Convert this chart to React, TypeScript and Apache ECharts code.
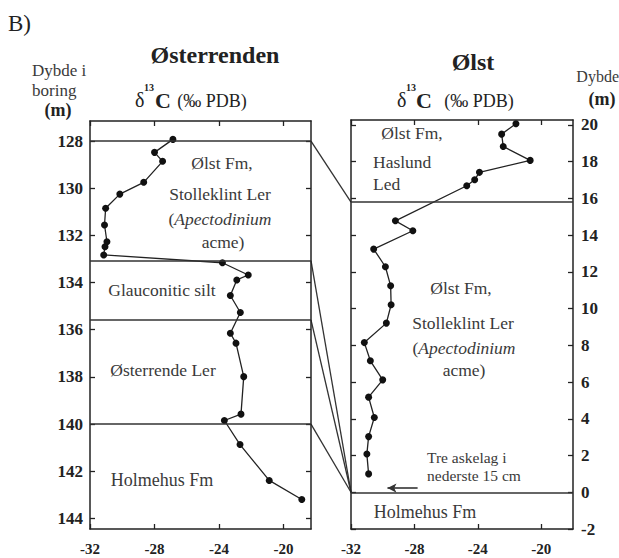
import React, { useEffect, useRef } from "react";
import * as echarts from "echarts";

// Østerrenden (left) — δ13C vs depth in boring (m)
const leftDepth = [127.93, 128.48, 128.86, 129.75, 130.25, 130.85, 131.56, 132.27, 132.48, 132.83, 133.16, 133.68, 133.89, 134.55, 135.27, 136.15, 136.57, 137.99, 139.58, 139.85, 140.87, 142.39, 143.2];
const leftD13C = [-26.86, -28.0, -27.5, -28.67, -30.15, -31.03, -31.1, -30.95, -31.07, -31.15, -23.79, -22.19, -22.9, -23.3, -22.68, -23.3, -22.95, -22.47, -22.64, -23.67, -22.7, -20.89, -18.87];
const leftBoundaries = [128, 133.07, 135.58, 140];

// Ølst (right) — δ13C vs depth (m)
const rightDepth = [20.07, 19.5, 18.83, 18.07, 17.42, 17.02, 16.69, 14.78, 14.24, 13.24, 12.28, 11.24, 10.21, 9.21, 8.15, 7.16, 6.12, 5.18, 4.07, 3.03, 2.08, 1.0];
const rightD13C = [-21.6, -22.5, -22.4, -20.7, -23.9, -24.2, -24.7, -29.2, -28.1, -30.57, -29.83, -29.5, -29.47, -29.77, -31.16, -30.78, -30.0, -30.89, -30.53, -30.89, -31.0, -30.89];
const rightBoundaries = [15.8, 0];

// correlation: left boundary depth -> right boundary depth
const correlations: [number, number][] = [[128, 15.8], [133.07, 0], [135.58, 0], [140, 0]];

// tick labels
const d13cTicks = [-32, -28, -24, -20];
const leftDepthTicks = [128, 130, 132, 134, 136, 138, 140, 142, 144];
const rightDepthTicks = [-2, 0, 2, 4, 6, 8, 10, 12, 14, 16, 18, 20];

const LEFT_X = [-32, -18.3];
const RIGHT_X = [-32, -18];
const LEFT_Y = [127.15, 144.45];
const RIGHT_Y = [-2, 20.27];

const SERIF = '"Liberation Serif", "DejaVu Serif", serif';
const INK = "#222";
const TXT = "#3a3a3a";
const UNIT = 17.5;

function xAx(grid: number, range: number[], labels: boolean, pos: string) {
  return {
    type: "value",
    gridIndex: grid,
    position: pos,
    min: range[0],
    max: range[1],
    axisLine: { show: true, onZero: false, lineStyle: { color: INK, width: 1.5 } },
    axisTick: { show: true, inside: true, length: 5, customValues: d13cTicks, lineStyle: { color: INK, width: 1.3 } },
    axisLabel: {
      show: labels,
      customValues: d13cTicks,
      margin: 12,
      color: INK,
      fontFamily: SERIF,
      fontSize: 15,
      fontWeight: "bold",
    },
    splitLine: { show: false },
  };
}

function yAx(grid: number, range: number[], ticks: number[], labels: boolean, pos: string, inverse: boolean, margin: number) {
  return {
    type: "value",
    gridIndex: grid,
    position: pos,
    inverse,
    min: range[0],
    max: range[1],
    axisLine: { show: true, onZero: false, lineStyle: { color: INK, width: 1.5 } },
    axisTick: { show: true, inside: true, length: 5, customValues: ticks, lineStyle: { color: INK, width: 1.3 } },
    axisLabel: {
      show: labels,
      customValues: ticks,
      margin,
      color: INK,
      fontFamily: SERIF,
      fontSize: 17,
      fontWeight: "bold",
    },
    splitLine: { show: false },
  };
}

function txt(text: string, x: number, y: number, size: number, opts: any = {}) {
  return {
    type: "text",
    x,
    y,
    silent: true,
    style: {
      text,
      fill: opts.fill || TXT,
      font: `${opts.weight || "normal"} ${size}px ${SERIF}`,
      align: opts.align || "center",
      verticalAlign: "middle",
    },
  };
}

function italicLine(x: number, y: number) {
  return {
    type: "text",
    x,
    y,
    silent: true,
    style: {
      text: "({i|Apectodinium}",
      fill: TXT,
      fontFamily: SERIF,
      fontSize: UNIT,
      align: "center",
      verticalAlign: "middle",
      rich: { i: { fontStyle: "italic", fontFamily: SERIF, fontSize: UNIT, fill: TXT } },
    },
  };
}

export default function App() {
  const ref = useRef<HTMLDivElement>(null);
  useEffect(() => {
    if (!ref.current) return;
    const chart = echarts.init(ref.current, undefined, { renderer: "svg" });
    const markLineStyle = (vals: number[]) => ({
      silent: true,
      symbol: "none",
      label: { show: false },
      lineStyle: { color: "#333", width: 1.6, type: "solid" },
      data: vals.map((v) => ({ yAxis: v })),
    });
    chart.setOption({
      animation: false,
      backgroundColor: "#fff",
      grid: [
        { left: 90, top: 121, right: 308, bottom: 29 },
        { left: 351, top: 120, right: 46, bottom: 29 },
      ],
      xAxis: [
        xAx(0, LEFT_X, true, "bottom"),
        xAx(0, LEFT_X, false, "top"),
        xAx(1, RIGHT_X, true, "bottom"),
        xAx(1, RIGHT_X, false, "top"),
      ],
      yAxis: [
        yAx(0, LEFT_Y, leftDepthTicks, true, "left", true, 7),
        yAx(0, LEFT_Y, leftDepthTicks, false, "right", true, 7),
        yAx(1, RIGHT_Y, rightDepthTicks, true, "right", false, 8),
        yAx(1, RIGHT_Y, rightDepthTicks, false, "left", false, 8),
      ],
      series: [
        {
          type: "line",
          xAxisIndex: 0,
          yAxisIndex: 0,
          data: leftDepth.map((d, i) => [leftD13C[i], d]),
          symbol: "circle",
          symbolSize: 7,
          itemStyle: { color: "#111" },
          lineStyle: { color: INK, width: 1.3 },
          markLine: markLineStyle(leftBoundaries),
        },
        {
          type: "line",
          xAxisIndex: 2,
          yAxisIndex: 2,
          data: rightDepth.map((d, i) => [rightD13C[i], d]),
          symbol: "circle",
          symbolSize: 7,
          itemStyle: { color: "#111" },
          lineStyle: { color: INK, width: 1.3 },
          markLine: {
            ...markLineStyle(rightBoundaries),
            data: [
              ...rightBoundaries.map((v) => ({ yAxis: v })),
              [
                { coord: [-27.8, 0.23], symbol: "none" },
                { coord: [-29.7, 0.23], symbol: "arrow", symbolSize: [7, 9] },
              ],
            ],
          },
        },
      ],
    });

    const links = correlations.map(([l, r]) => {
      const a = chart.convertToPixel({ xAxisIndex: 0, yAxisIndex: 0 }, [LEFT_X[1], l]) as number[];
      const b = chart.convertToPixel({ xAxisIndex: 2, yAxisIndex: 2 }, [RIGHT_X[0], r]) as number[];
      return {
        type: "line",
        silent: true,
        shape: { x1: a[0], y1: a[1], x2: b[0], y2: b[1] },
        style: { stroke: "#333", lineWidth: 1.3 },
      };
    });

    const texts = [
      txt("B)", 8, 23, 23, { align: "left", fill: "#222" }),
      txt("Østerrenden", 215, 55, 24, { weight: "bold", fill: "#222" }),
      txt("Ølst", 473, 62, 24, { weight: "bold", fill: "#222" }),
      // left δ13C
      txt("δ", 135, 100, 20, { align: "left", fill: "#222" }),
      txt("13", 144, 87, 10, { align: "left", weight: "bold", fill: "#222" }),
      txt("C", 155, 100, 22, { align: "left", weight: "bold", fill: "#222" }),
      txt("(‰ PDB)", 212, 101, 18, { fill: "#222" }),
      // right δ13C
      txt("δ", 397, 100, 20, { align: "left", fill: "#222" }),
      txt("13", 406, 87, 10, { align: "left", weight: "bold", fill: "#222" }),
      txt("C", 416, 100, 22, { align: "left", weight: "bold", fill: "#222" }),
      txt("(‰ PDB)", 479, 101, 18, { fill: "#222" }),
      // axis titles
      txt("Dybde i", 32, 70, 17, { align: "left" }),
      txt("boring", 32, 90, 17, { align: "left" }),
      txt("(m)", 58, 110, 18, { weight: "bold", fill: "#222" }),
      txt("Dybde", 619, 76, 16, { align: "right" }),
      txt("(m)", 602, 99, 18, { weight: "bold", fill: "#222" }),
      // left panel units
      txt("Ølst Fm,", 222, 163, UNIT),
      txt("Stolleklint Ler", 220, 194, UNIT),
      italicLine(220, 219),
      txt("acme)", 223, 242, UNIT),
      txt("Glauconitic silt", 162, 290, UNIT),
      txt("Østerrende Ler", 163, 370, UNIT),
      txt("Holmehus Fm", 162, 480, 18),
      // right panel units
      txt("Ølst Fm,", 412, 133, UNIT),
      txt("Haslund", 373, 162, UNIT, { align: "left" }),
      txt("Led", 373, 184, UNIT, { align: "left" }),
      txt("Ølst Fm,", 461, 288, UNIT),
      txt("Stolleklint Ler", 463, 323, UNIT),
      italicLine(464, 348),
      txt("acme)", 464, 370, UNIT),
      txt("Tre askelag i", 427, 457, 15.5, { align: "left" }),
      txt("nederste 15 cm", 427, 475, 15.5, { align: "left" }),
      txt("Holmehus Fm", 425, 512, 18),
    ];

    chart.setOption({ graphic: { elements: [...links, ...texts] } });
    return () => chart.dispose();
  }, []);
  return (
    <div
      ref={ref}
      style={{ position: "fixed", left: 0, top: 0, width: 619, height: 558, background: "#fff" }}
    />
  );
}
